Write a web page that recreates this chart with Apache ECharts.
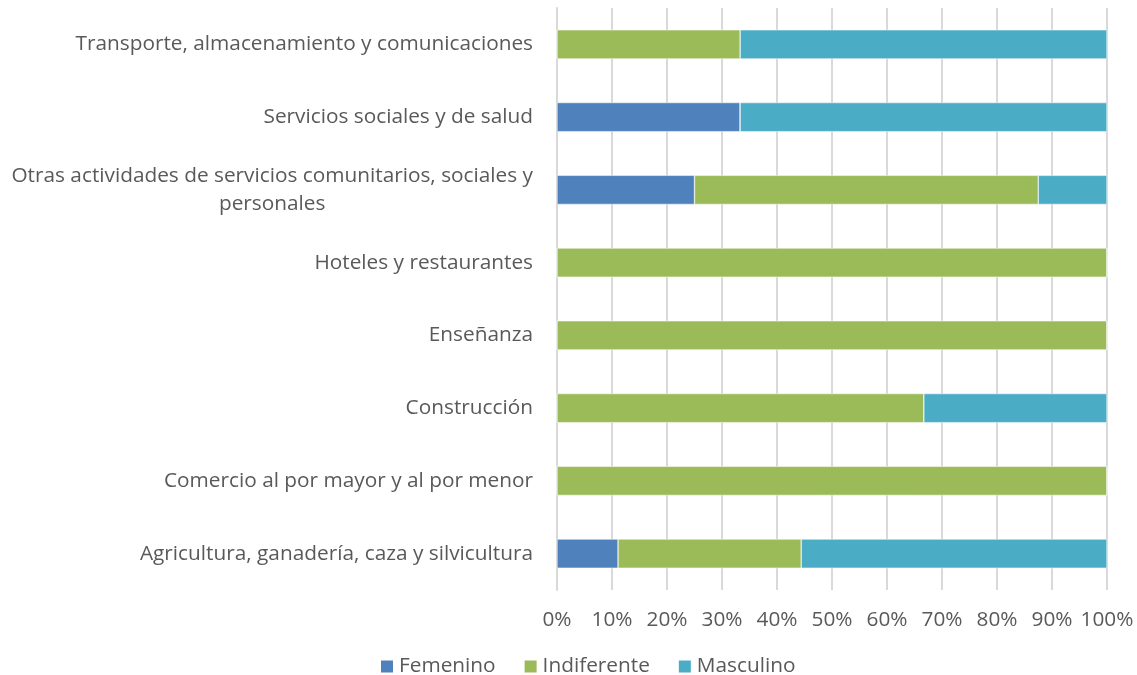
<!DOCTYPE html>
<html><head><meta charset="utf-8">
<script src="https://cdn.jsdelivr.net/npm/echarts@6/dist/echarts.min.js"></script>
<style>html,body{margin:0;padding:0;background:#fff}#c{width:1137px;height:675px}</style>
</head><body><div id="c"></div>
<script>
var categories = ["Agricultura, ganadería, caza y silvicultura","Comercio al por mayor y al por menor","Construcción","Enseñanza","Hoteles y restaurantes","Otras actividades de servicios comunitarios, sociales y personales","Servicios sociales y de salud","Transporte, almacenamiento y comunicaciones"];
var femenino = [11.1, 0, 0, 0, 0, 25, 33.3, 0];
var indiferente = [33.3, 100, 66.7, 100, 100, 62.5, 0, 33.3];
var masculino = [55.6, 0, 33.3, 0, 0, 12.5, 66.7, 66.7];
var tickLabels = ["0%","10%","20%","30%","40%","50%","60%","70%","80%","90%","100%"];

var FONT = "Open Sans";
var FS = 20.8;
var chart = echarts.init(document.getElementById('c'));
function mk(name, data, color){
  return {name:name,type:'bar',stack:'t',data:data,barWidth:'40%',
    itemStyle:{color:color,borderColor:'#fff',borderWidth:0.5},emphasis:{disabled:true}};
}
chart.setOption({
  animation:false,
  textStyle:{fontFamily:FONT},
  grid:{left:557,right:30,top:8,bottom:85,containLabel:false},
  legend:{top:651,left:374,itemWidth:14,itemHeight:14,itemGap:27,icon:'rect',
    textStyle:{fontFamily:FONT,fontSize:FS,color:'#595959'},
    data:['Femenino','Indiferente','Masculino']},
  xAxis:{type:'value',min:0,max:100,interval:10,
    axisLabel:{fontFamily:FONT,fontSize:FS,color:'#595959',margin:20,
      formatter:function(v){return tickLabels[Math.round(v/10)];}},
    splitLine:{show:true,lineStyle:{color:'#D9D9D9',width:2}},
    axisLine:{show:false},axisTick:{show:false}},
  yAxis:{type:'category',data:categories,
    axisLine:{show:true,lineStyle:{color:'#D9D9D9',width:2}},axisTick:{show:false},
    axisLabel:{fontFamily:FONT,fontSize:FS,color:'#595959',margin:24,
      formatter:function(v){
        if(v.indexOf('Otras')===0){return '{a|Otras actividades de servicios comunitarios, sociales y}\n{b|personales}';}
        return v;},
      rich:{a:{fontFamily:FONT,fontSize:FS,color:'#595959',lineHeight:28},
            b:{fontFamily:FONT,fontSize:FS,color:'#595959',lineHeight:28,align:'center'}}}},
  series:[mk('Femenino',femenino,'#4F81BD'),mk('Indiferente',indiferente,'#9BBB59'),mk('Masculino',masculino,'#4BACC6')]
});
</script></body></html>
